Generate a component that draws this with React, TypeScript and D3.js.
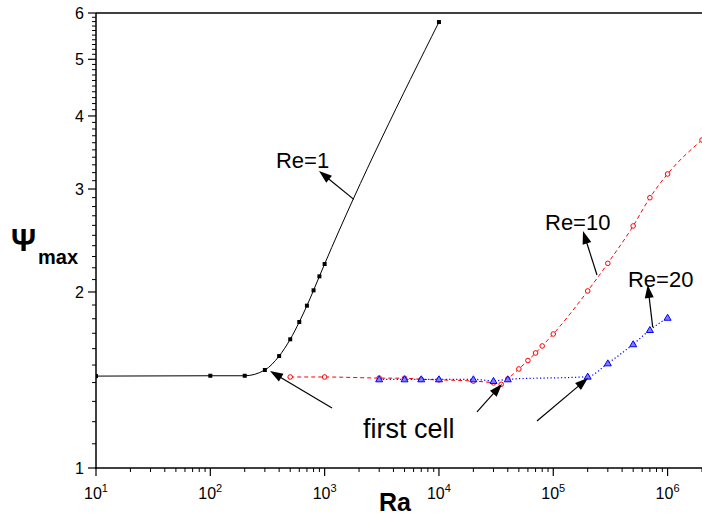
import React from "react";
import * as d3 from "d3";

// ---------- data ----------
const re1Ra = [10, 100, 200, 300, 400, 500, 600, 700, 800, 900, 1000, 10000];
const re1Psi = [1.436, 1.438, 1.438, 1.471, 1.554, 1.66, 1.777, 1.895, 2.013, 2.127, 2.233, 5.79];

const re10Ra = [500, 1000, 3000, 5000, 7000, 10000, 20000, 30000, 35000, 40000, 50000, 60000, 70000, 80000, 100000, 200000, 300000, 500000, 700000, 1000000, 2000000];
const re10Psi = [1.431, 1.431, 1.425, 1.424, 1.418, 1.415, 1.408, 1.398, 1.39, 1.42, 1.477, 1.527, 1.573, 1.617, 1.695, 2.008, 2.239, 2.594, 2.899, 3.183, 3.639];

const re20Ra = [3000, 5000, 7000, 10000, 20000, 30000, 40000, 200000, 300000, 500000, 700000, 1000000];
const re20Psi = [1.418, 1.418, 1.418, 1.418, 1.418, 1.409, 1.418, 1.433, 1.51, 1.628, 1.722, 1.807];

const yMajorTicks = [1, 2, 3, 4, 5, 6];
const xDecades = [1, 2, 3, 4, 5, 6];

// annotation labels (data coordinates: Ra, Psi)
const labelTexts = ["Re=1", "Re=10", "Re=20", "first cell"];
const labelRa = [375, 84660, 450400, 2166];
const labelPsi = [3.259, 2.553, 2.04, 1.125];
const labelSizes = [22, 22, 22, 27];

// arrows: tail -> tip (data coordinates)
const arrowTailRa = [1800, 241300, 741000, 1160, 21520, 72050];
const arrowTailPsi = [2.88, 2.138, 1.742, 1.267, 1.247, 1.203];
const arrowTipRa = [893, 182000, 670000, 332.7, 35600, 201200];
const arrowTipPsi = [3.22, 2.543, 2.056, 1.465, 1.392, 1.425];

// ---------- layout ----------
const W = 702;
const H = 517;
const FONT = "'Liberation Sans', Arial, Helvetica, sans-serif";

const x = d3.scaleLog().domain([10, 2e6]).range([96, 702]);
const y = d3.scaleLog().domain([1, 6]).range([468, 13]);

const zip = (a: number[], b: number[]) => a.map((v, i) => [v, b[i]] as [number, number]);

const lineGen = d3
  .line<[number, number]>()
  .x((d) => x(d[0]))
  .y((d) => y(d[1]))
  .curve(d3.curveMonotoneX);

function Arrow({ x1, y1, x2, y2 }: { x1: number; y1: number; x2: number; y2: number }) {
  const dx = x2 - x1;
  const dy = y2 - y1;
  const len = Math.sqrt(dx * dx + dy * dy);
  const ux = dx / len;
  const uy = dy / len;
  const hl = 13;
  const hw = 4.5;
  const bx = x2 - ux * hl;
  const by = y2 - uy * hl;
  const pts = [
    [x2, y2],
    [bx - uy * hw, by + ux * hw],
    [bx + uy * hw, by - ux * hw],
  ];
  return (
    <g>
      <line x1={x1} y1={y1} x2={bx + ux * 2} y2={by + uy * 2} stroke="#000" strokeWidth={1.2} />
      <polygon points={pts.map((p) => p.join(",")).join(" ")} fill="#000" />
    </g>
  );
}

export default function App() {
  const re1 = zip(re1Ra, re1Psi);
  const re10 = zip(re10Ra, re10Psi);
  const re20 = zip(re20Ra, re20Psi);

  const yMinor: number[] = [];
  for (let k = 1; k < 6; k++) for (let j = 1; j <= 9; j++) yMinor.push(k + j / 10);

  const xMinor: number[] = [];
  for (const d of [1, 2, 3, 4, 5, 6]) for (let m = 2; m <= 9; m++) {
    const v = m * Math.pow(10, d);
    if (v <= 2e6) xMinor.push(v);
  }

  const x0 = x.range()[0];
  const x1 = x.range()[1];
  const y0 = y.range()[0];
  const y1 = y.range()[1];

  return (
    <div style={{ position: "absolute", left: 0, top: 0 }}>
      <svg width={W} height={H} style={{ display: "block", background: "#fff" }} fontFamily={FONT}>
        <defs>
          <clipPath id="plot">
            <rect x={x0} y={y1} width={x1 - x0} height={y0 - y1} />
          </clipPath>
        </defs>

        {/* frame: left axis, bottom axis, top line */}
        <line x1={x0} y1={y1} x2={x0} y2={y0 + 1} stroke="#000" strokeWidth={1.5} />
        <line x1={x0 - 1} y1={y0} x2={x1} y2={y0} stroke="#000" strokeWidth={1.5} />
        <line x1={x0} y1={y1} x2={x1} y2={y1} stroke="#000" strokeWidth={1.5} />

        {/* y ticks */}
        {yMinor.map((v) => (
          <line key={"ym" + v} x1={x0 - 4} x2={x0} y1={y(v)} y2={y(v)} stroke="#000" strokeWidth={1} />
        ))}
        {yMajorTicks.map((v) => (
          <g key={"yM" + v}>
            <line x1={x0 - 8} x2={x0} y1={y(v)} y2={y(v)} stroke="#000" strokeWidth={1.2} />
            <text x={x0 - 12} y={y(v)} dy="0.35em" textAnchor="end" fontSize={16} fill="#000">
              {v}
            </text>
          </g>
        ))}

        {/* x ticks */}
        {xMinor.map((v) => (
          <line key={"xm" + v} x1={x(v)} x2={x(v)} y1={y0} y2={y0 + 4} stroke="#000" strokeWidth={1} />
        ))}
        {xDecades.map((d) => {
          const px = x(Math.pow(10, d));
          return (
            <g key={"xM" + d}>
              <line x1={px} x2={px} y1={y0} y2={y0 + 8} stroke="#000" strokeWidth={1.2} />
              <text x={px - 12} y={499} fontSize={16} fill="#000">
                10
                <tspan dy={-7} fontSize={11}>
                  {d}
                </tspan>
              </text>
            </g>
          );
        })}

        {/* axis titles */}
        <text x={395} y={511} textAnchor="middle" fontSize={25} fontWeight="bold" fill="#000">
          Ra
        </text>
        <text x={11} y={251} fontSize={31} fontWeight="bold" fill="#000">
          Ψ
        </text>
        <text x={38} y={264} fontSize={20} fontWeight="bold" fill="#000">
          max
        </text>

        {/* series */}
        <g clipPath="url(#plot)">
          <path d={lineGen(re10) || ""} fill="none" stroke="#ff0000" strokeWidth={1} strokeDasharray="4,3" />
          <path d={lineGen(re20) || ""} fill="none" stroke="#0000ff" strokeWidth={1.2} strokeDasharray="1.2,2.3" />
          <path d={lineGen(re1) || ""} fill="none" stroke="#000" strokeWidth={1} />

          {re1.map((d, i) => (
            <rect key={"s1" + i} x={x(d[0]) - 2} y={y(d[1]) - 2} width={4} height={4} fill="#000" />
          ))}
          {re10.map((d, i) => (
            <circle key={"s10" + i} cx={x(d[0])} cy={y(d[1])} r={2.3} fill="#fff" stroke="#ff0000" strokeWidth={1} />
          ))}
          {re20.map((d, i) => {
            const cx = x(d[0]);
            const cy = y(d[1]);
            return (
              <polygon
                key={"s20" + i}
                points={`${cx},${cy - 3.5} ${cx - 3.5},${cy + 2.5} ${cx + 3.5},${cy + 2.5}`}
                fill="#8080ff"
                stroke="#0000ff"
                strokeWidth={1}
              />
            );
          })}
        </g>

        {/* annotations */}
        {labelTexts.map((t, i) => (
          <text key={"lab" + i} x={x(labelRa[i])} y={y(labelPsi[i])} fontSize={labelSizes[i]} fill="#000">
            {t}
          </text>
        ))}
        {arrowTailRa.map((_, i) => (
          <Arrow
            key={"arr" + i}
            x1={x(arrowTailRa[i])}
            y1={y(arrowTailPsi[i])}
            x2={x(arrowTipRa[i])}
            y2={y(arrowTipPsi[i])}
          />
        ))}
      </svg>
    </div>
  );
}
